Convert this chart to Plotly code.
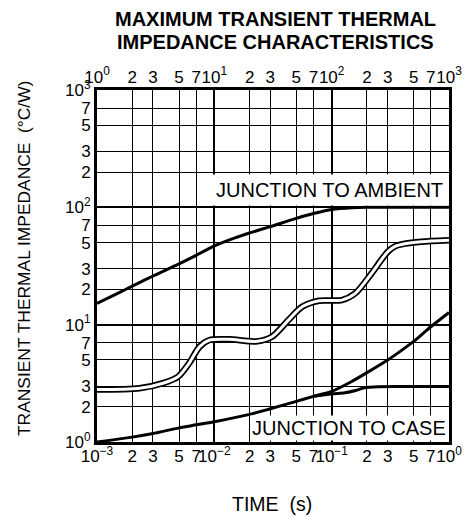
import plotly.graph_objects as go

# ---------------- data ----------------
# Junction to ambient (top time axis, seconds 1 .. 1000)
amb_t = [1, 1.5, 2, 3, 5, 7, 10, 15, 20, 30, 50, 70, 100, 150, 200, 300, 500, 1000]
amb_z = [15.2, 18.5, 21.3, 26.0, 33.0, 39.0, 47.0, 55.0, 60.5, 68.5, 80.5, 88.5, 96.0, 99.2, 100, 100, 100, 100]

# Double-line curve (bottom time axis)
dbl_t = [1e-3, 2.3e-3, 3.65e-3, 4.9e-3, 6.1e-3, 7.5e-3, 9.1e-3, 1.34e-2, 2.25e-2, 3.1e-2,
         4.3e-2, 5.6e-2, 7.8e-2, 0.122, 0.159, 0.219, 0.265, 0.302, 0.347, 0.42, 0.58, 1.0]
dbl_z = [2.8, 2.87, 3.17, 3.6, 4.7, 6.5, 7.4, 7.5, 7.2, 7.9,
         11.0, 14.2, 16.0, 16.2, 18.5, 27.4, 35.7, 42.0, 46.5, 49.0, 51.0, 52.5]

# Junction to case, single curve (continues rising)
case_t = [1e-3, 2e-3, 3e-3, 5e-3, 7e-3, 1e-2, 2e-2, 3e-2, 5e-2, 7e-2, 0.1, 0.15, 0.2, 0.3, 0.4, 0.5, 0.7, 1.0]
case_z = [1.0, 1.1, 1.18, 1.32, 1.4, 1.49, 1.72, 1.92, 2.22, 2.45, 2.7, 3.3, 3.9, 5.0, 6.1, 7.2, 9.6, 12.7]

# Junction to case, branch that levels off
flat_t = [7e-2, 0.1, 0.13, 0.16, 0.19, 0.25, 0.4, 1.0]
flat_z = [2.45, 2.57, 2.63, 2.75, 2.9, 2.96, 2.97, 2.97]

# tick labels
decades_bottom = [-3, -2, -1, 0]
decades_top = [0, 1, 2, 3]
decades_y = [0, 1, 2, 3]
mults = [1, 2, 3, 5, 7]


def sup(e):
    s = str(e).replace("-", "\u2212")
    return f"10<sup>{s}</sup>"


def ticks(decs):
    vals, texts = [], []
    for i, d in enumerate(decs):
        for m in mults:
            if i == len(decs) - 1 and m > 1:
                break
            vals.append(m * 10.0 ** d)
            texts.append(sup(d) if m == 1 else str(m))
    return vals, texts


xb_vals, xb_text = ticks(decades_bottom)
xt_vals, xt_text = ticks(decades_top)
y_vals, y_text = ticks(decades_y)

FONT = "Liberation Sans, Arial, Helvetica, sans-serif"
TICKSIZE = 17

fig = go.Figure()

spl = dict(shape="spline", smoothing=0.8)
fig.add_trace(go.Scatter(x=amb_t, y=amb_z, xaxis="x2", yaxis="y", mode="lines",
                         line=dict(color="black", width=3, **spl),
                         showlegend=False, hoverinfo="skip"))
fig.add_trace(go.Scatter(x=case_t, y=case_z, mode="lines",
                         line=dict(color="black", width=3, **spl),
                         showlegend=False, hoverinfo="skip"))
fig.add_trace(go.Scatter(x=flat_t, y=flat_z, mode="lines",
                         line=dict(color="black", width=3, **spl),
                         showlegend=False, hoverinfo="skip"))
fig.add_trace(go.Scatter(x=dbl_t, y=dbl_z, mode="lines",
                         line=dict(color="black", width=6.5, **spl),
                         showlegend=False, hoverinfo="skip"))
fig.add_trace(go.Scatter(x=dbl_t, y=dbl_z, mode="lines",
                         line=dict(color="white", width=3, **spl),
                         showlegend=False, hoverinfo="skip"))

grid = dict(showgrid=True, gridcolor="black", gridwidth=1.2, ticks="", zeroline=False)

fig.update_layout(
    width=474, height=517,
    margin=dict(l=97, r=23, t=90, b=75),
    paper_bgcolor="white", plot_bgcolor="white",
    font=dict(family=FONT, size=18, color="black"),
    xaxis=dict(type="log", range=[-3, 0], tickmode="array", tickvals=xb_vals, ticktext=xb_text,
               tickangle=0, showline=True, mirror=True, linecolor="black", linewidth=3,
               tickfont=dict(size=TICKSIZE), ticklabelstandoff=-3,
               minor=dict(showgrid=True, gridcolor="black", gridwidth=2.4, ticks="",
                          tickmode="array", tickvals=[10.0 ** d for d in decades_bottom]),
               **grid),
    xaxis2=dict(type="log", range=[0, 3], overlaying="x", side="top", anchor="y",
                tickmode="array", tickvals=xt_vals, ticktext=xt_text, tickangle=0,
                ticklabelstandoff=3,
                showgrid=False, showline=False, ticks="", tickfont=dict(size=TICKSIZE)),
    yaxis=dict(type="log", range=[0, 3], tickmode="array", tickvals=y_vals, ticktext=y_text,
               showline=True, mirror=True, linecolor="black", linewidth=3,
               tickfont=dict(size=TICKSIZE),
               minor=dict(showgrid=True, gridcolor="black", gridwidth=2.4, ticks="",
                          tickmode="array", tickvals=[10.0 ** d for d in decades_y]),
               **grid),
)

annos = [
    dict(text="<b>MAXIMUM TRANSIENT THERMAL</b>", x=0.507, y=1.203, xref="paper", yref="paper",
         showarrow=False, font=dict(size=20), xanchor="center", yanchor="middle"),
    dict(text="<b>IMPEDANCE CHARACTERISTICS</b>", x=0.507, y=1.135, xref="paper", yref="paper",
         showarrow=False, font=dict(size=20), xanchor="center", yanchor="middle"),
    dict(text="TRANSIENT THERMAL IMPEDANCE \u00a0(°C/W)", x=-0.209, y=0.521, xref="paper", yref="paper",
         showarrow=False, textangle=-90, font=dict(size=17.4), xanchor="center", yanchor="middle"),
    dict(text="TIME \u00a0(s)", x=0.497, y=-0.176, xref="paper", yref="paper",
         showarrow=False, font=dict(size=19.5), xanchor="center", yanchor="middle"),
    dict(text="JUNCTION TO AMBIENT", x=0.997, y=2, xref="paper", yref="y",
         showarrow=False, font=dict(size=20), xanchor="right", yanchor="bottom",
         bgcolor="white", borderpad=4, yshift=1),
    dict(text="JUNCTION TO CASE", x=0.997, y=0, xref="paper", yref="y",
         showarrow=False, font=dict(size=20), xanchor="right", yanchor="bottom",
         bgcolor="white", borderpad=1, yshift=1),
]
fig.update_layout(annotations=annos)

fig.write_html("out.html", config={"displayModeBar": False},
               post_script="document.body.style.margin='0px';document.body.style.padding='0px';")
